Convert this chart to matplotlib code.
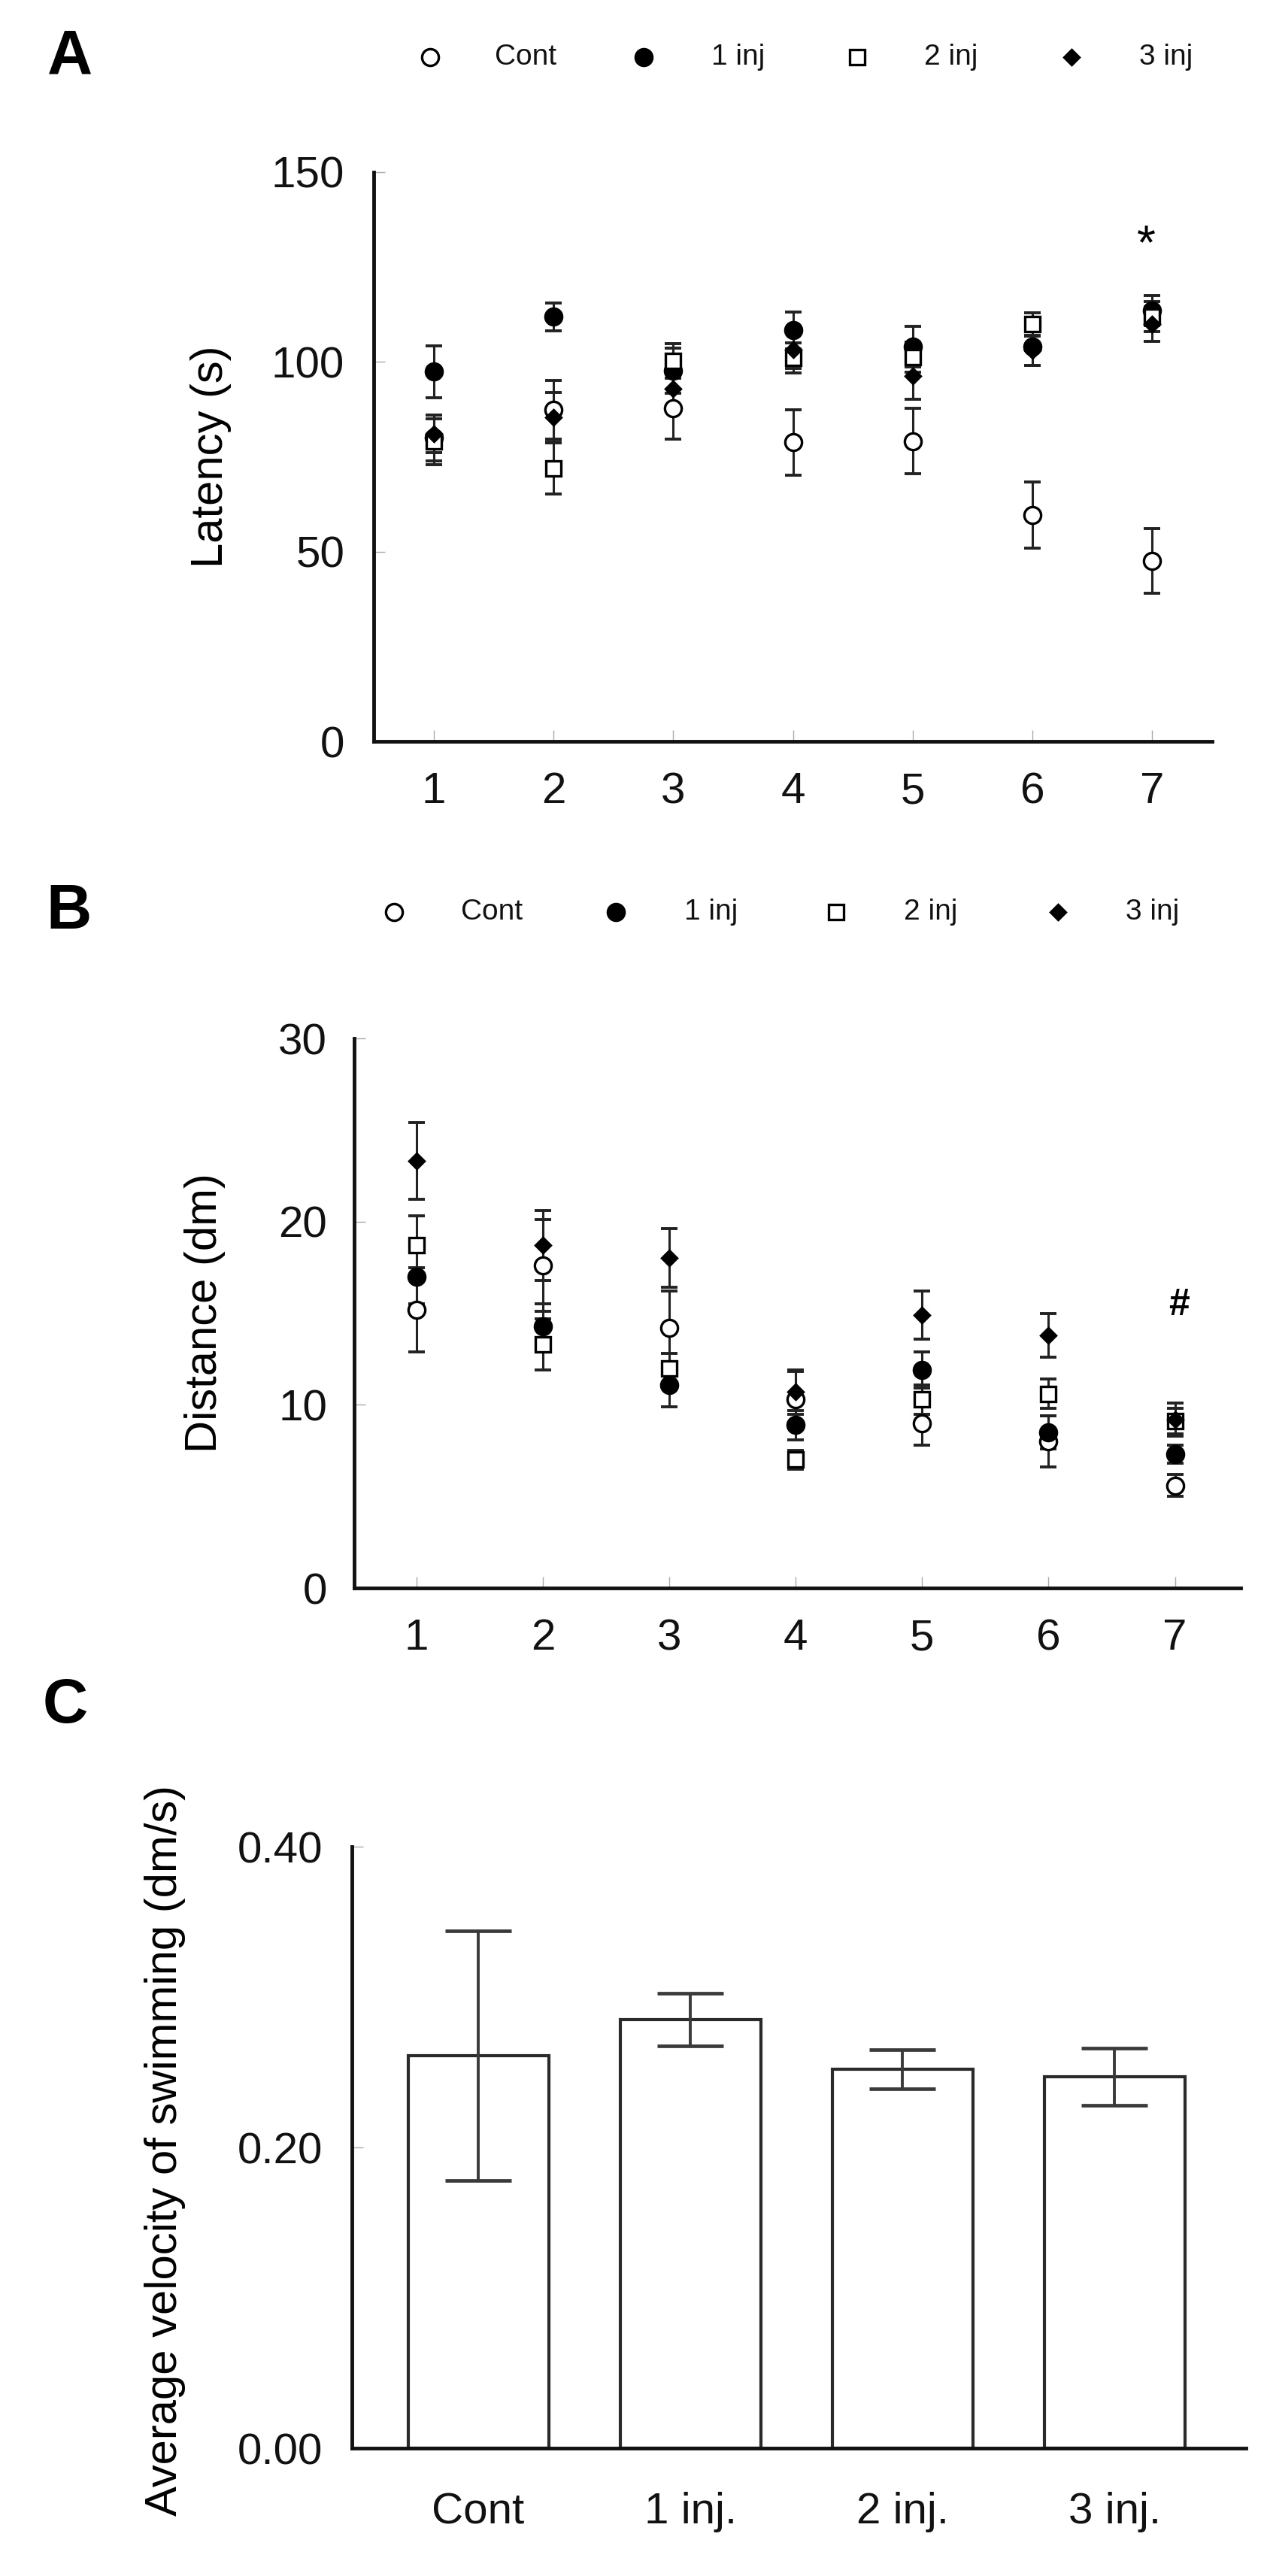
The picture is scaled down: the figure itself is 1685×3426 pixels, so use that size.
import numpy as np
import matplotlib.pyplot as plt
from matplotlib.lines import Line2D

plt.rcParams['font.family'] = ['Liberation Sans', 'DejaVu Sans']

# ---- data ----
days = [1, 2, 3, 4, 5, 6, 7]
series_names = ['Cont', '1 inj', '2 inj', '3 inj']

lat_cont = [80.0, 87.4, 87.7, 78.8, 79.1, 59.6, 47.5]
lat_cont_err = [6.0, 7.8, 8.0, 8.6, 8.6, 8.7, 8.5]
lat_1inj = [97.4, 111.9, 97.7, 108.3, 104.0, 104.0, 113.5]
lat_1inj_err = [6.9, 3.7, 6.0, 4.9, 5.3, 5.0, 4.0]
lat_2inj = [79.0, 71.9, 100.3, 101.0, 101.3, 109.9, 112.0]
lat_2inj_err = [6.0, 6.8, 4.5, 4.0, 4.0, 3.0, 4.0]
lat_3inj = [81.0, 85.4, 93.0, 103.3, 96.4, 103.0, 110.0]
lat_3inj_err = [5.0, 6.6, 5.0, 5.0, 6.3, 4.0, 4.5]

dist_cont = [15.2, 17.6, 14.2, 10.3, 9.0, 8.0, 5.6]
dist_cont_err = [2.3, 2.5, 2.0, 1.5, 1.2, 1.4, 0.6]
dist_1inj = [17.0, 14.3, 11.1, 8.9, 11.9, 8.5, 7.3]
dist_1inj_err = [1.5, 1.2, 1.2, 0.8, 1.0, 0.9, 0.5]
dist_2inj = [18.7, 13.3, 12.0, 7.0, 10.3, 10.6, 9.1]
dist_2inj_err = [1.6, 1.4, 0.8, 0.5, 0.8, 0.8, 0.7]
dist_3inj = [23.3, 18.7, 18.0, 10.7, 14.9, 13.8, 9.2]
dist_3inj_err = [2.1, 1.9, 1.6, 1.2, 1.3, 1.2, 0.9]

groups = ['Cont', '1 inj.', '2 inj.', '3 inj.']
velocity = [0.261, 0.285, 0.252, 0.247]
velocity_err = [0.083, 0.0175, 0.013, 0.019]

# marker style per series: (marker, size, face)
styles = [('o', 16, 'white'), ('o', 16, 'black'), ('s', 15, 'white'), ('D', 10, 'black')]

W, H = 1685, 3426
fig = plt.figure(figsize=(W / 100, H / 100), dpi=100)


def fbox(left, top, right, bottom):
    return [left / W, 1 - bottom / H, (right - left) / W, (bottom - top) / H]


def style_axes(ax, xpad, ypad):
    for s in ['top', 'right']:
        ax.spines[s].set_visible(False)
    for s in ['left', 'bottom']:
        ax.spines[s].set_linewidth(3.5)
        ax.spines[s].set_color('#111111')
    ax.tick_params(axis='both', direction='in', length=11, width=1, color='#aaaaaa',
                   labelsize=42, labelcolor='#111111')
    ax.tick_params(axis='x', pad=xpad)
    ax.tick_params(axis='y', pad=ypad)


def scatter_panel(ax, means, errs):
    for m, e in zip(means, errs):
        ax.errorbar(days, m, yerr=e, fmt='none', ecolor='#222222', elinewidth=2.2,
                    capsize=8, capthick=2.8, zorder=2)
    for m, (mk, ms, fc) in zip(means, styles):
        ax.plot(days, m, linestyle='none', marker=mk, markersize=ms, markerfacecolor=fc,
                markeredgecolor='black', markeredgewidth=2.4, zorder=3)


def fig_legend(y, marker_x, text_x):
    for (mk, ms, fc), mx, tx, name in zip(styles, marker_x, text_x, series_names):
        fig.add_artist(Line2D([mx / W], [1 - y / H], marker=mk, markersize=ms,
                              markerfacecolor=fc, markeredgecolor='black',
                              markeredgewidth=2.4, linestyle='none',
                              transform=fig.transFigure))
        fig.text(tx / W, 1 - y / H, name, fontsize=28, ha='left', va='center', color='#111111')


# ---- panel A ----
axA = fig.add_axes(fbox(497, 229, 1612, 986))
scatter_panel(axA, [lat_cont, lat_1inj, lat_2inj, lat_3inj],
              [lat_cont_err, lat_1inj_err, lat_2inj_err, lat_3inj_err])
axA.set_xlim(0.5, 7.5)
axA.set_ylim(0, 150)
axA.set_xticks(days)
axA.set_yticks([0, 50, 100, 150])
style_axes(axA, 29, 28)
axA.set_ylabel('Latency (s)', fontsize=43, va='center')
axA.yaxis.set_label_coords(-0.1946, 0.5)
axA.text(6.95, 130.5, '*', fontsize=46, ha='center', va='center')
fig_legend(76, [572, 856, 1140, 1425], [658, 946, 1229, 1515])
fig.text(93 / W, 1 - 76 / H, 'A', fontsize=60, fontweight='bold', ha='center', va='center')

# ---- panel B ----
axB = fig.add_axes(fbox(471, 1381, 1650, 2112))
scatter_panel(axB, [dist_cont, dist_1inj, dist_2inj, dist_3inj],
              [dist_cont_err, dist_1inj_err, dist_2inj_err, dist_3inj_err])
axB.set_xlim(0.506, 7.52)
axB.set_ylim(0, 30)
axB.set_xticks(days)
axB.set_yticks([0, 10, 20, 30])
style_axes(axB, 29, 26)
axB.set_ylabel('Distance (dm)', fontsize=43, va='center')
axB.yaxis.set_label_coords(-0.168, 0.5)
axB.text(7.03, 15.45, '#', fontsize=36, fontweight='bold', ha='center', va='center')
fig_legend(1213, [524, 819, 1112, 1407], [613, 910, 1202, 1497])
fig.text(91 / W, 1 - 1213 / H, 'B', fontsize=60, fontweight='bold', ha='center', va='center')

# ---- panel C ----
axC = fig.add_axes(fbox(468, 2456, 1657, 3256))
xpos = np.arange(len(groups))
axC.bar(xpos, velocity, width=0.663, color='white', edgecolor='#2a2a2a', linewidth=3, zorder=2)
axC.errorbar(xpos, velocity, yerr=velocity_err, fmt='none', ecolor='#3a3a3a',
             elinewidth=2.8, capsize=32, capthick=3.4, zorder=3)
axC.set_xlim(-0.596, 3.62)
axC.set_ylim(0, 0.40)
axC.set_xticks(xpos)
axC.set_xticklabels(groups)
axC.set_yticks([0.0, 0.2, 0.4])
axC.set_yticklabels(['0.00', '0.20', '0.40'])
style_axes(axC, 42, 28)
axC.tick_params(axis='x', length=0)
axC.set_ylabel('Average velocity of swimming (dm/s)', fontsize=43, va='center')
axC.yaxis.set_label_coords(-0.2086, 0.495)
fig.text(87 / W, 1 - 2269 / H, 'C', fontsize=60, fontweight='bold', ha='center', va='center')

fig.savefig('out.png', dpi=100, facecolor='white')
